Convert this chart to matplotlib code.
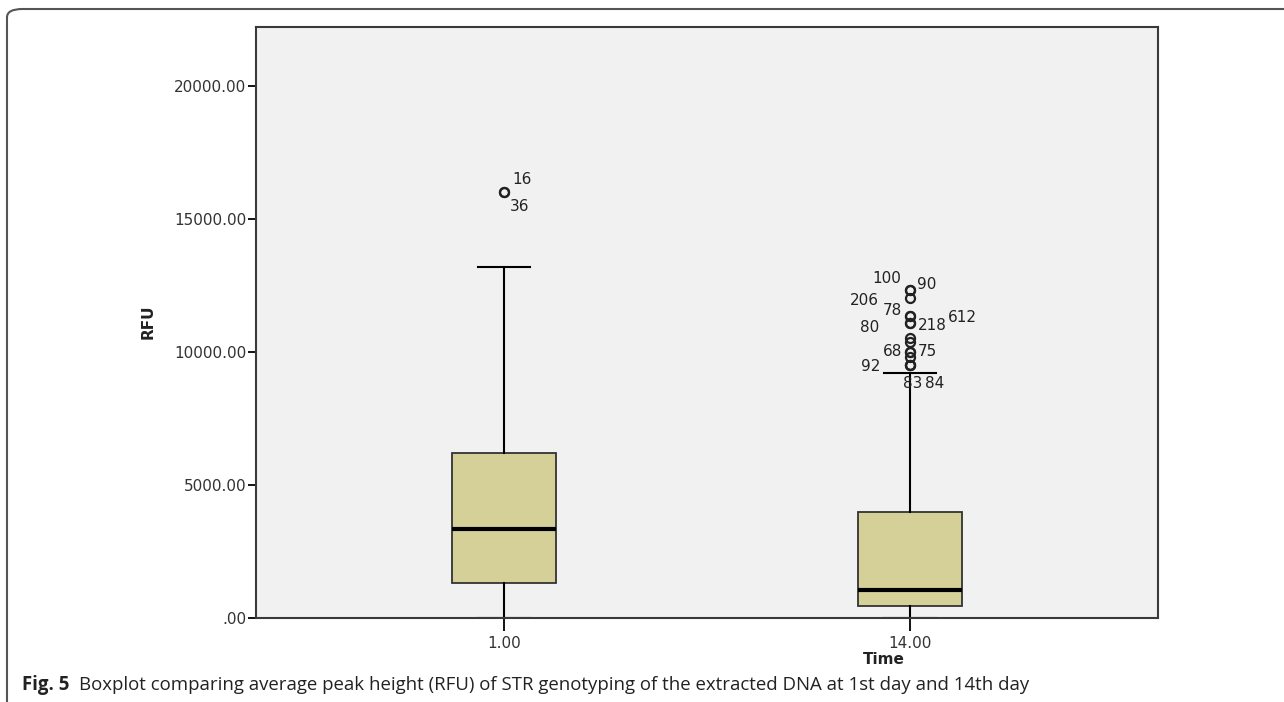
import numpy as np
import matplotlib.pyplot as plt
from matplotlib.patches import FancyBboxPatch

plt.rcParams['font.family'] = ['DejaVu Sans']

# box statistics (RFU)
groups = ['1.00', '14.00']
q1 = [1330, 450]
median = [3350, 1050]
q3 = [6200, 4000]
whisker_lo = [0, 0]
whisker_hi = [13200, 9200]

# outliers (value, case label)
out_1_vals = [16000, 16000]
out_1_labels = ['16', '36']
out_14_vals = [12330, 12330, 12020, 11350, 11350, 11080, 11080, 10530, 10390,
               10010, 10010, 9820, 9510, 9510, 9510]
out_14_labels = ['100', '90', '206', '78', '612', '80', '218', '', '',
                 '68', '75', '', '92', '83', '84']

# where each case label sits relative to its circle (pixels)
off_1 = [(18, 13), (16, -14)]
off_14 = [(-23, 12), (17, 6), (-46, -2), (-18, 6), (52, -1), (-40, -4), (22, -2),
          (0, 0), (0, 0), (-17, 0), (17, 0), (0, 0), (-39, -1), (3, -18), (25, -18)]

caption_bold = 'Fig. 5'
caption = ('Boxplot comparing average peak height (RFU) of STR genotyping of the '
           'extracted DNA at 1st day and 14th day')

fig = plt.figure(figsize=(12.84, 7.02), dpi=100)
ax = fig.add_axes([256 / 1284, 1 - 618 / 702, (1158 - 256) / 1284, (618 - 27) / 702])
ax.set_facecolor('#f1f1f1')

stats = []
fliers = [out_1_vals, out_14_vals]
for i in range(len(groups)):
    stats.append(dict(med=median[i], q1=q1[i], q3=q3[i], whislo=whisker_lo[i],
                      whishi=whisker_hi[i], fliers=fliers[i]))

positions = [1, 2]
ax.bxp(stats, positions=positions, widths=0.254, capwidths=0.126, patch_artist=True,
       boxprops=dict(facecolor='#d5d098', edgecolor='#333333', linewidth=1.3),
       medianprops=dict(color='black', linewidth=3),
       whiskerprops=dict(color='black', linewidth=1.5),
       capprops=dict(color='black', linewidth=1.5),
       flierprops=dict(marker='o', markerfacecolor='none', markeredgecolor='#222222',
                       markersize=6.5, markeredgewidth=1.6))

# case labels next to outliers
for pos, vals, labs, offs in [(1, out_1_vals, out_1_labels, off_1),
                              (2, out_14_vals, out_14_labels, off_14)]:
    for v, lab, (dx, dy) in zip(vals, labs, offs):
        if lab:
            ax.annotate(lab, (pos, v), xytext=(dx, dy), textcoords='offset pixels',
                        ha='center', va='center', fontsize=11, color='#222222')

ax.set_xlim(0.389, 2.611)
ax.set_ylim(0, 22218)
ax.set_xticks(positions)
ax.set_xticklabels(groups)
yt = [0, 5000, 10000, 15000, 20000]
ax.set_yticks(yt)
ax.set_yticklabels(['.00' if v == 0 else '%.2f' % v for v in yt])
ax.tick_params(axis='y', length=6, width=1.3, pad=1, labelsize=11, labelcolor='#333333')
ax.tick_params(axis='x', length=9, width=1.3, pad=4, labelsize=11, labelcolor='#333333')
for s in ax.spines.values():
    s.set_color('#3a3a3a')
    s.set_linewidth(1.5)

fig.text(148 / 1284, 1 - 322 / 702, 'RFU', rotation=90, ha='center', va='center',
         fontsize=11, fontweight='bold', color='#222222')
fig.text(884 / 1284, 1 - 660 / 702, 'Time', ha='center', va='center',
         fontsize=11, fontweight='bold', color='#222222')

# caption
t1 = fig.text(22 / 1284, 1 - 685 / 702, caption_bold, ha='left', va='center',
              fontsize=13.4, fontweight='bold', family='Open Sans', color='#222222')
fig.add_artist(plt.Annotation(caption, xy=(1, 0.5), xycoords=t1, xytext=(10, 0),
                              textcoords='offset pixels', ha='left', va='center',
                              fontsize=13.4, family='Open Sans', color='#222222'))

# rounded frame around figure
frame = FancyBboxPatch((7 / 1284, -0.5), 2, 1.5 - 9 / 702,
                       boxstyle='round,pad=0,rounding_size=0.012',
                       transform=fig.transFigure, fill=False, edgecolor='#555555',
                       linewidth=1.5, clip_on=False)
fig.add_artist(frame)

fig.savefig('out.png', dpi=100)
